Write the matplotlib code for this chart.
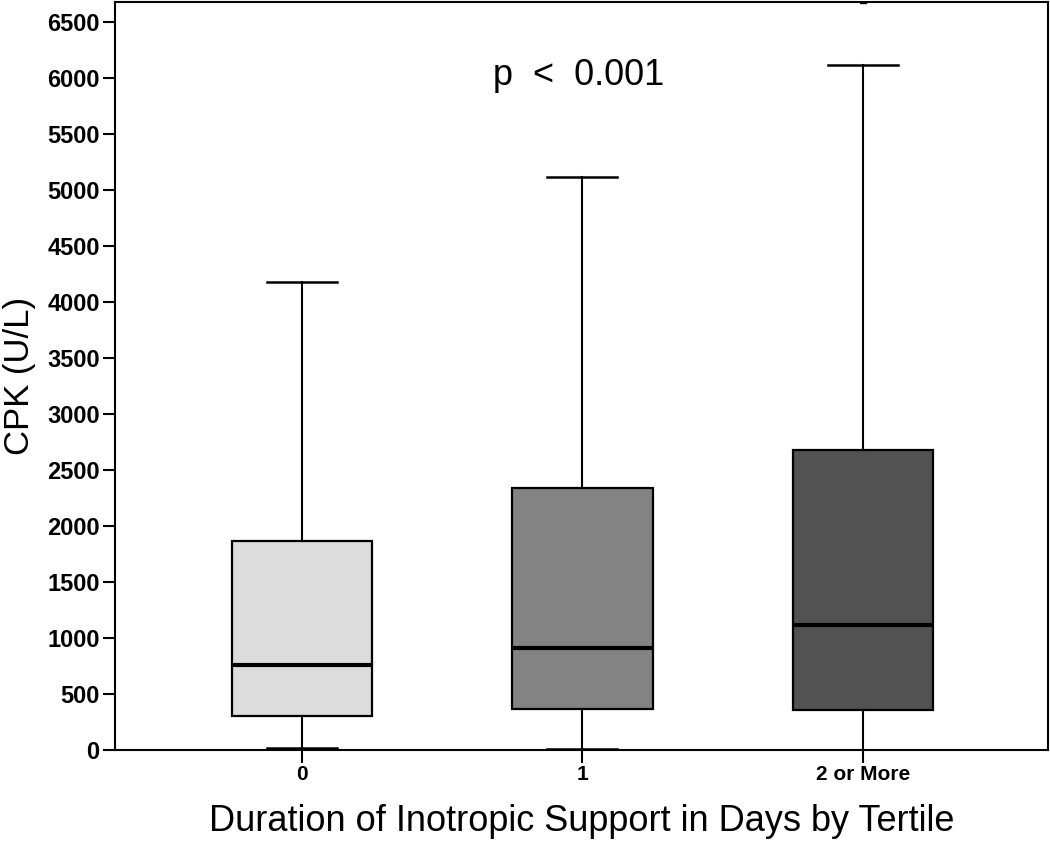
import matplotlib
matplotlib.use("Agg")
import matplotlib.pyplot as plt
from matplotlib import font_manager

# CPK by duration of inotropic support (tertiles)
groups = ["0", "1", "2 or More"]
whislo = [20, 8, 3]
q1 = [303, 366, 357]
med = [758, 909, 1114]
q3 = [1863, 2336, 2675]
whishi = [4179, 5116, 6116]
fliers = [[], [], [6695]]
colors = ["#dcdcdc", "#838383", "#525252"]

names = {f.name for f in font_manager.fontManager.ttflist}
narrow = "Liberation Sans Narrow" if "Liberation Sans Narrow" in names else "Liberation Sans"

plt.rcParams["font.family"] = ["Liberation Sans", "DejaVu Sans"]

stats = []
for i in range(len(groups)):
    stats.append(dict(label=groups[i], whislo=whislo[i], q1=q1[i], med=med[i],
                      q3=q3[i], whishi=whishi[i], fliers=fliers[i]))

fig = plt.figure(figsize=(10.5, 8.44), dpi=100)
ax = fig.add_axes([0.1095, 0.1114, 0.8885, 0.8862])

bp = ax.bxp(stats, positions=range(len(groups)), widths=0.5, patch_artist=True,
            boxprops=dict(linewidth=1.6, edgecolor="black"),
            medianprops=dict(color="black", linewidth=3),
            whiskerprops=dict(color="black", linewidth=1.5),
            capprops=dict(color="black", linewidth=1.8),
            capwidths=0.25,
            flierprops=dict(marker="s", markerfacecolor="black", markeredgecolor="black", markersize=5))
for patch, c in zip(bp["boxes"], colors):
    patch.set_facecolor(c)

ax.set_xlim(-0.667, 2.66)
ax.set_ylim(0, 6680)
ax.set_yticks(range(0, 6501, 500))
ax.set_xticks(range(len(groups)))
ax.set_xticklabels(groups)
for lab in ax.get_yticklabels():
    lab.set_fontweight("bold")
    lab.set_fontsize(17)
for lab in ax.get_xticklabels():
    lab.set_fontweight("bold")
    lab.set_fontsize(15)
ax.tick_params(axis="both", length=9, width=1.5, pad=2)
for s in ax.spines.values():
    s.set_linewidth(1.5)

ax.set_xlabel("Duration of Inotropic Support in Days by Tertile", fontsize=26,
              family=[narrow, "DejaVu Sans"], labelpad=14)
ax.set_ylabel("CPK (U/L)", fontsize=25, labelpad=8)

ax.text(0.988, 6027, "p  <  0.001", fontsize=26, ha="center", va="center")

fig.savefig("out.png", dpi=100)
